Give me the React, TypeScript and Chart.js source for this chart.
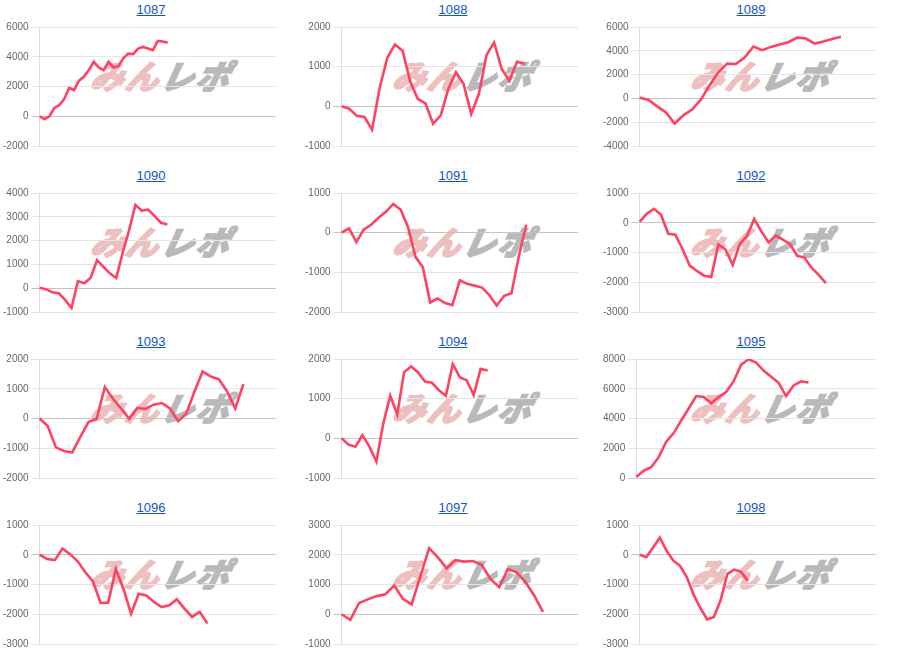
import React, { useEffect, useRef } from "react";
import { Chart, registerables } from "chart.js";

Chart.register(...registerables);

const titles = ["1087", "1088", "1089", "1090", "1091", "1092", "1093", "1094", "1095", "1096", "1097", "1098"];

const slotCounts = [49, 32, 28, 38, 33, 34, 30, 35, 33, 32, 28, 36];

const v1087 = [0, -200, 0, 560, 740, 1160, 1900, 1760, 2390, 2650, 3100, 3660, 3280, 3100, 3660, 3280, 3370, 3900, 4210, 4170, 4550, 4660, 4550, 4440, 5060, 5020, 4950];
const v1088 = [0, -60, -240, -270, -590, 470, 1225, 1560, 1400, 625, 185, 75, -440, -225, 440, 860, 560, -190, 310, 1290, 1610, 940, 640, 1125, 1075];
const v1089 = [50, -110, -670, -1170, -2110, -1420, -940, -110, 1110, 2220, 2920, 2890, 3440, 4360, 4050, 4330, 4530, 4720, 5110, 5030, 4610, 4780, 5000, 5190];
const v1090 = [15, -40, -170, -210, -490, -830, 300, 210, 440, 1180, 900, 625, 430, 1490, 2430, 3500, 3260, 3300, 3030, 2750, 2680];
const v1091 = [0, 110, -240, 75, 200, 375, 525, 725, 575, 140, -610, -875, -1760, -1660, -1775, -1825, -1200, -1290, -1335, -1385, -1575, -1840, -1590, -1525, -590, 200];
const v1092 = [30, 300, 470, 270, -370, -400, -890, -1440, -1620, -1780, -1820, -730, -900, -1420, -710, -440, 130, -290, -660, -430, -570, -720, -1110, -1170, -1510, -1750, -2030];
const v1093 = [0, -255, -970, -1090, -1145, -620, -120, -10, 1055, 665, 335, -10, 355, 320, 465, 520, 335, -90, 165, 910, 1580, 1410, 1320, 910, 335, 1155];
const v1094 = [0, -160, -210, 85, -210, -585, 375, 1075, 600, 1670, 1810, 1660, 1430, 1400, 1210, 1075, 1875, 1540, 1460, 1090, 1750, 1710];
const v1095 = [70, 490, 730, 1400, 2440, 3020, 3870, 4670, 5510, 5440, 5020, 5440, 5780, 6510, 7620, 7980, 7760, 7220, 6800, 6400, 5510, 6220, 6490, 6420];
const v1096 = [0, -140, -180, 210, 20, -220, -590, -900, -1620, -1610, -480, -1150, -1980, -1310, -1370, -1590, -1760, -1700, -1500, -1810, -2090, -1920, -2310];
const v1097 = [0, -190, 380, 500, 610, 670, 965, 520, 330, 1280, 2220, 1910, 1545, 1820, 1770, 1790, 1660, 1190, 910, 1520, 1410, 1080, 630, 80];
const v1098 = [0, -80, 245, 580, 135, -200, -370, -760, -1340, -1790, -2170, -2090, -1530, -640, -500, -570, -870];

const seriesValues = [v1087, v1088, v1089, v1090, v1091, v1092, v1093, v1094, v1095, v1096, v1097, v1098];

const yMins = [-2000, -1000, -4000, -1000, -2000, -3000, -2000, -1000, 0, -3000, -1000, -3000];
const yMaxs = [6000, 2000, 6000, 4000, 1000, 1000, 2000, 2000, 8000, 1000, 3000, 1000];
const ySteps = [2000, 1000, 2000, 1000, 1000, 1000, 1000, 1000, 2000, 1000, 1000, 1000];

const colLefts = [0, 302, 600];
const rowTops = [0, 166, 332, 498];

function Panel({ idx }: { idx: number }) {
  const ref = useRef<HTMLCanvasElement | null>(null);
  useEffect(() => {
    if (!ref.current) return;
    const labels = Array.from({ length: slotCounts[idx] }, (_, i) => String(i + 1));
    const chart = new Chart(ref.current, {
      type: "line",
      data: {
        labels,
        datasets: [
          {
            data: seriesValues[idx],
            borderColor: "#ff4262",
            backgroundColor: "#ff4262",
            borderWidth: 2.6,
            pointRadius: 0,
            tension: 0,
            fill: false,
          },
        ],
      },
      options: {
        animation: false,
        responsive: false,
        devicePixelRatio: 1,
        plugins: { legend: { display: false }, tooltip: { enabled: false }, title: { display: false } },
        layout: { padding: 0 },
        scales: {
          x: { display: false },
          y: {
            min: yMins[idx],
            max: yMaxs[idx],
            ticks: {
              stepSize: ySteps[idx],
              color: "#666",
              font: { family: "'Liberation Sans', Arial, sans-serif", size: 10 },
              callback: (v: any) => String(v),
            },
            grid: {
              color: (ctx: any) => (ctx.tick && ctx.tick.value === 0 ? "#c4c4c4" : "#e4e4e4"),
              lineWidth: 1,
              tickLength: 8,
            },
            border: { color: "#dedede" },
          },
        },
      },
    });
    return () => chart.destroy();
  }, [idx]);

  const col = idx % 3;
  const row = Math.floor(idx / 3);
  return (
    <div
      style={{
        position: "absolute",
        left: colLefts[col],
        top: rowTops[row],
        width: 302,
        height: 166,
      }}
    >
      <div
        style={{
          position: "absolute",
          left: 0,
          top: 2,
          width: 302,
          textAlign: "center",
          fontFamily: "'Liberation Sans', Arial, sans-serif",
          fontSize: 13,
          lineHeight: "16px",
        }}
      >
        <a href="#" style={{ color: "#1155cc", textDecoration: "underline" }}>
          {titles[idx]}
        </a>
      </div>
      <div
        style={{
          position: "absolute",
          left: 92,
          top: 55,
          fontFamily: "'Noto Sans CJK JP', sans-serif",
          fontWeight: 900,
          fontStyle: "italic",
          fontSize: 33,
          lineHeight: "40px",
          letterSpacing: 2,
          whiteSpace: "nowrap",
          transform: "skewX(-12deg)",
          pointerEvents: "none",
        }}
      >
        <span style={{ color: "#eebfbf", WebkitTextStroke: "1.5px #eebfbf" }}>みん</span>
        <span style={{ color: "#b9b9b9", WebkitTextStroke: "1.5px #b9b9b9" }}>レポ</span>
      </div>
      <canvas
        ref={ref}
        width={276}
        height={137}
        style={{ position: "absolute", left: 0, top: 18, width: 276, height: 137, display: "block" }}
      />
    </div>
  );
}

export default function App() {
  useEffect(() => {
    document.body.style.margin = "0";
  }, []);
  return (
    <div style={{ position: "relative", width: 900, height: 664, background: "#fff", overflow: "hidden" }}>
      {titles.map((_, i) => (
        <Panel key={i} idx={i} />
      ))}
    </div>
  );
}
